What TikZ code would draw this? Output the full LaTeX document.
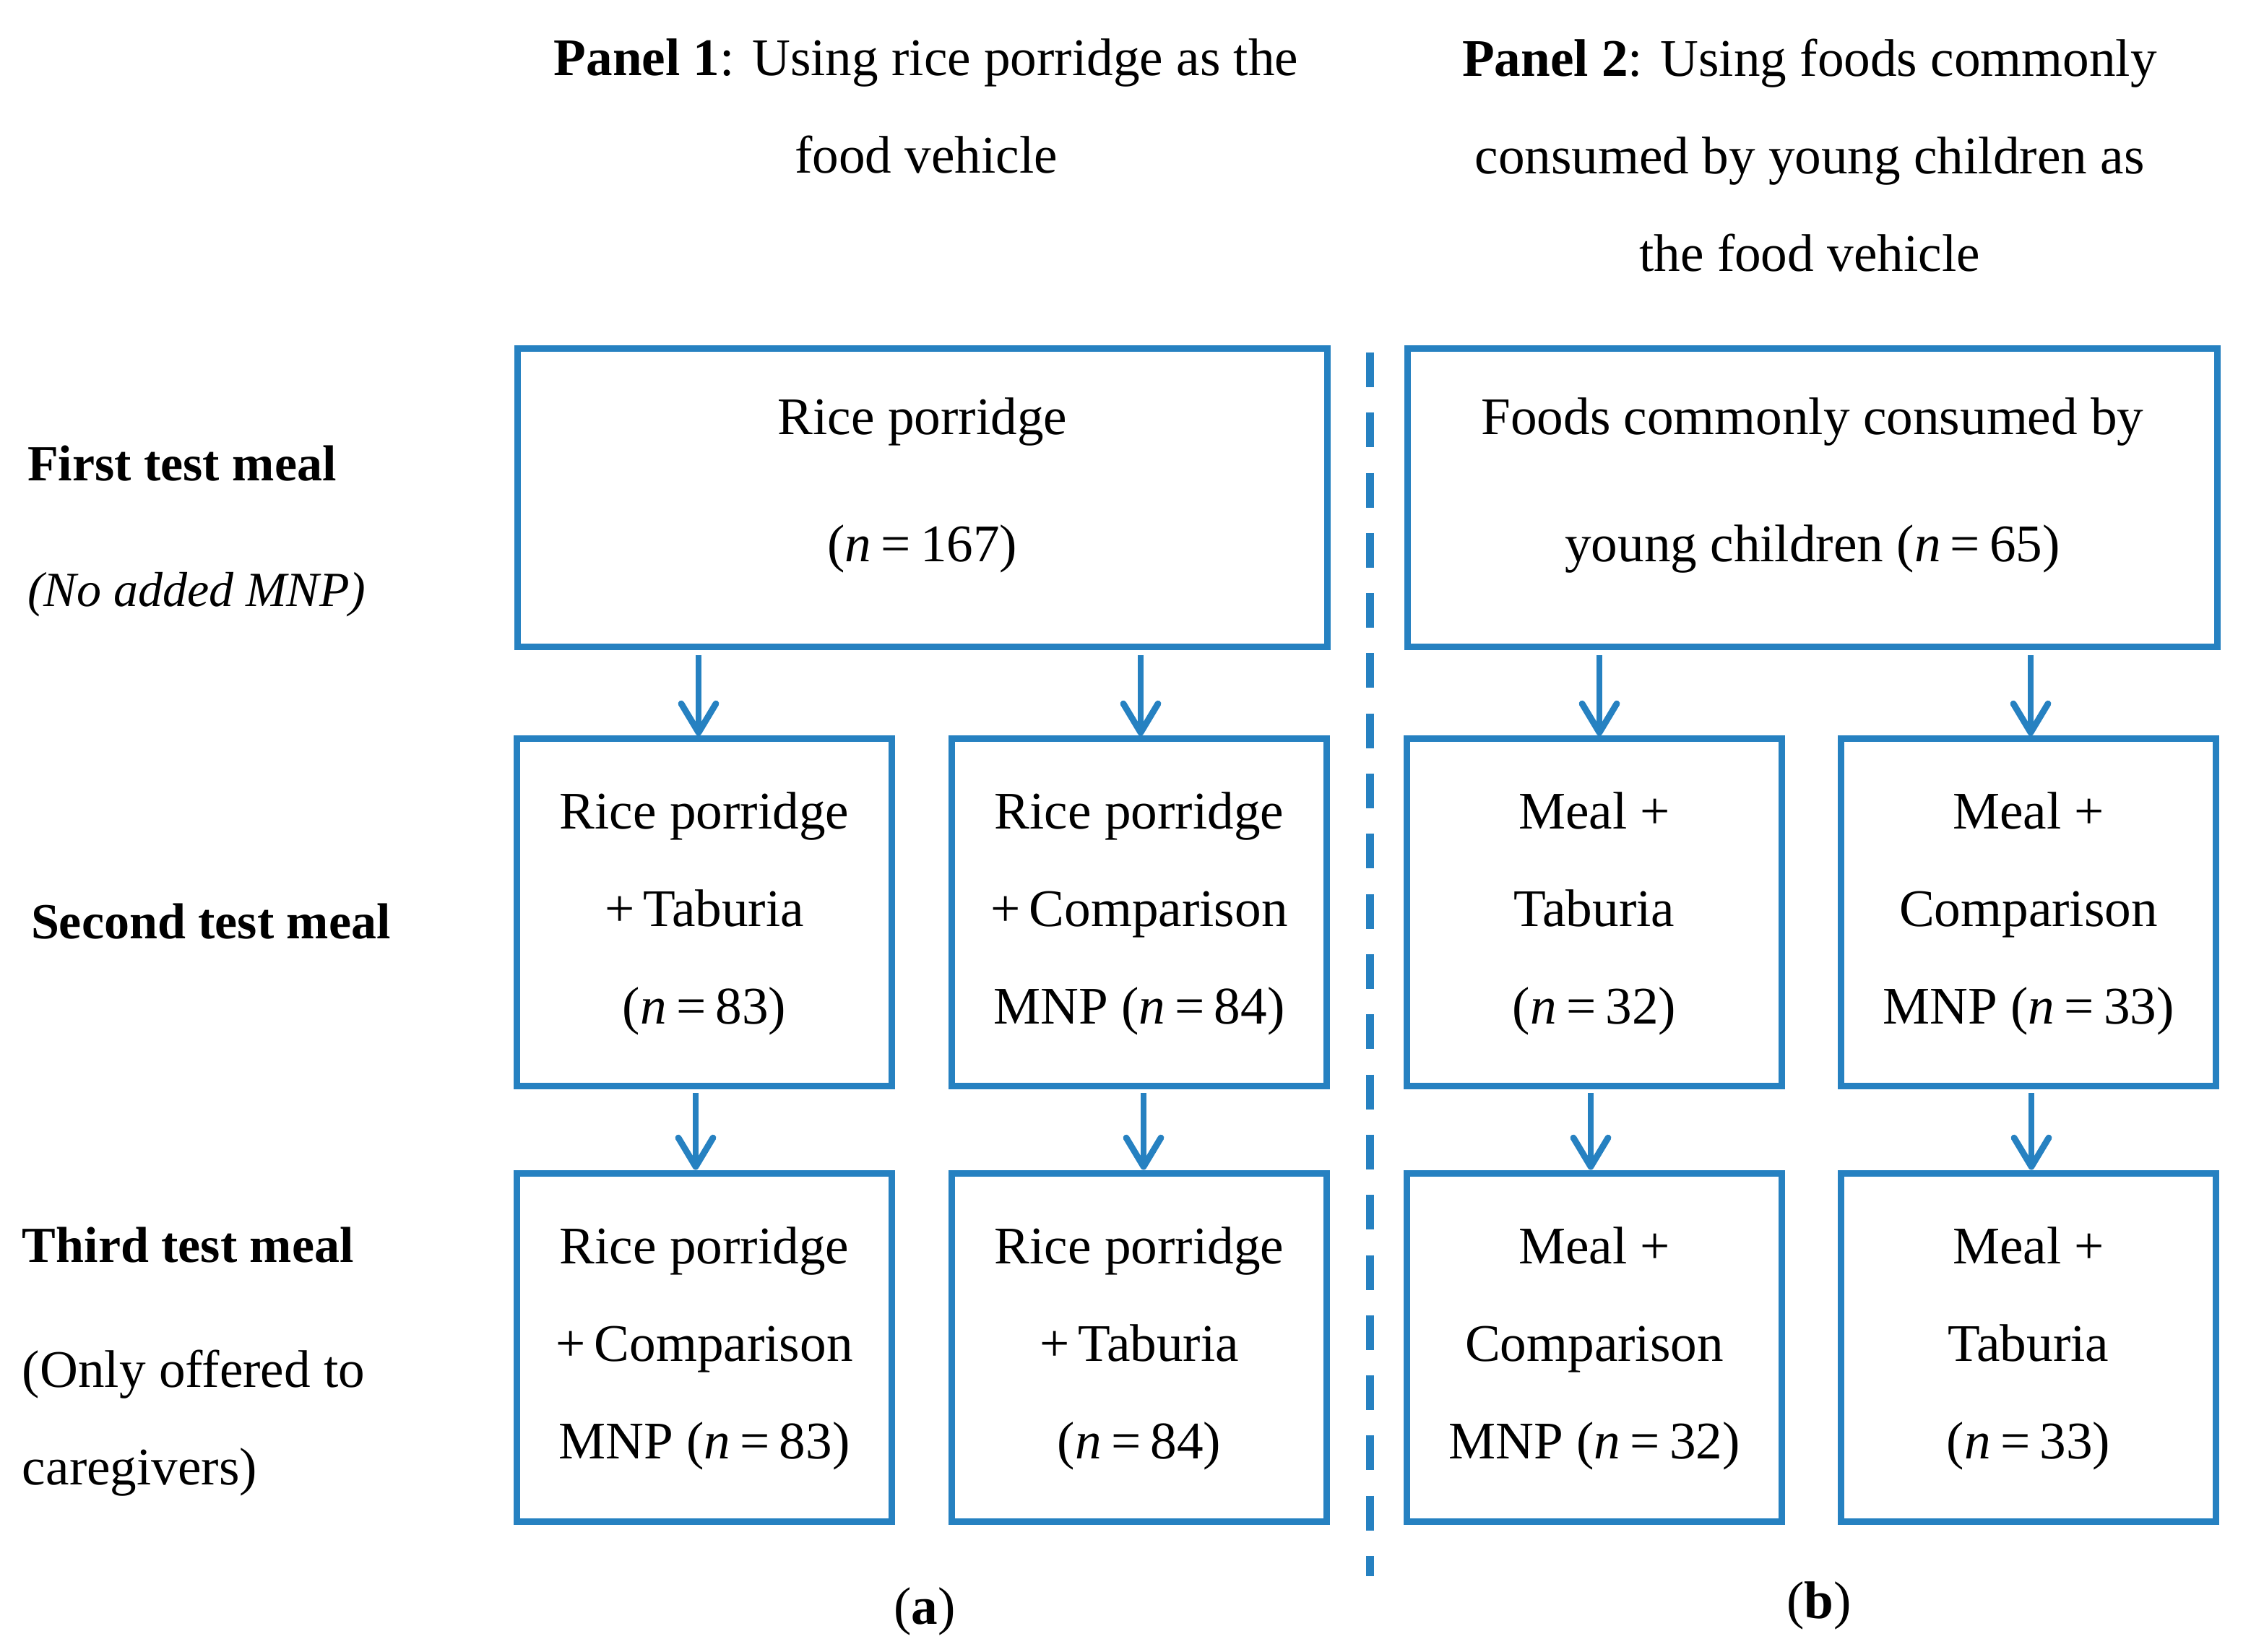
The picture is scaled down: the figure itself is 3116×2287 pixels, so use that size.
\documentclass[tikz,border=0pt]{standalone}
\usepackage{fontspec}
\setmainfont{Liberation Serif}
\usetikzlibrary{arrows.meta,calc}
\definecolor{fblue}{RGB}{38,129,193}
\newcommand{\nn}[1]{(\textit{n}\hspace{0.18em}=\hspace{0.18em}#1)}
\newcommand{\sr}{\rule[-5.5pt]{0pt}{20.5pt}}
\newcommand{\sa}{\rule[-13pt]{0pt}{26.5pt}}
\newcommand{\sh}{\rule[-13pt]{0pt}{26pt}}
\newcommand{\fsz}{\fontsize{18.3}{33.75}\selectfont}
\begin{document}
\begin{tikzpicture}[x=0.25pt,y=-0.25pt,
  every node/.style={inner sep=0pt,outer sep=0pt},
  boxbase/.style={draw=fblue,line width=2.25pt,rectangle,align=center},
  bigbox/.style={boxbase,minimum width=280.25pt,minimum height=103.25pt,font=\fontsize{18.3}{44}\selectfont},
  smallbox/.style={boxbase,minimum width=129.75pt,font=\fsz},
  rowtwo/.style={smallbox,minimum height=120pt},
  rowthree/.style={smallbox,minimum height=120.5pt},
  hdr/.style={align=center,font=\fsz},
  lbl/.style={font=\fsz},
  boldlbl/.style={font=\fontsize{17.5}{33.75}\selectfont\bfseries,anchor=base west},
  itlbl/.style={font=\fontsize{17}{33.75}\selectfont\itshape,anchor=base west},
  arr/.style={draw=fblue,line width=2.2pt,-{Straight Barb[length=10pt,width=12pt,round]}},
  sep/.style={draw=fblue,line width=2.75pt,dash pattern=on 12pt off 8.825pt}]
\useasboundingbox (0,0) rectangle (3116,2287);

% headers
\node[hdr] (h1) at (1282,172.5) {\sh\textbf{Panel 1}: Using rice porridge as the\\\sh food vehicle};
\node[hdr] (h2) at (2505,241) {\sh\textbf{Panel 2}: Using foods commonly\\\sh consumed by young children as\\\sh the food vehicle};

% left labels
\node[boldlbl] (l1) at (38,666) {First test meal};
\node[itlbl] (l1b) at (38,840) {(No added MNP)};
\node[boldlbl] (l2) at (43,1299) {Second test meal};
\node[boldlbl] (l3) at (31,1747) {Third test meal};
\node[lbl,align=left,anchor=west] (l3b) at (31,1987.5) {\sh(Only offered to\\\sh caregivers)};

% first row
\node[bigbox] (a) at (1277,689) {\sa Rice porridge\\\sa\nn{167}};
\node[bigbox] (b) at (2509,689) {\sa Foods commonly consumed by\\\sa young children \nn{65}};

% second row
\node[rowtwo] (a1) at (975,1263) {\sr Rice porridge\\\sr +\,Taburia\\\sr\nn{83}};
\node[rowtwo] (a2) at (1577,1263) {\sr Rice porridge\\\sr +\,Comparison\\\sr MNP \nn{84}};
\node[rowtwo] (b1) at (2207,1263) {\sr Meal +\\\sr Taburia\\\sr\nn{32}};
\node[rowtwo] (b2) at (2808,1263) {\sr Meal +\\\sr Comparison\\\sr MNP \nn{33}};

% third row
\node[rowthree] (a3) at (975,1865) {\sr Rice porridge\\\sr +\,Comparison\\\sr MNP \nn{83}};
\node[rowthree] (a4) at (1577,1865) {\sr Rice porridge\\\sr +\,Taburia\\\sr\nn{84}};
\node[rowthree] (b3) at (2207,1865) {\sr Meal +\\\sr Comparison\\\sr MNP \nn{32}};
\node[rowthree] (b4) at (2808,1865) {\sr Meal +\\\sr Taburia\\\sr\nn{33}};

% arrows row 1 -> row 2
\draw[arr] ($(a1.north |- a.south)+(-8,12)$) -- ($(a1.north)+(-8,-4.5)$);
\draw[arr] ($(a2.north |- a.south)+(2,12)$) -- ($(a2.north)+(2,-4.5)$);
\draw[arr] ($(b1.north |- b.south)+(7,12)$) -- ($(b1.north)+(7,-4.5)$);
\draw[arr] ($(b2.north |- b.south)+(3,12)$) -- ($(b2.north)+(3,-4.5)$);

% arrows row 2 -> row 3
\draw[arr] ($(a1.south)+(-12,10)$) -- ($(a3.north)+(-12,-4.5)$);
\draw[arr] ($(a2.south)+(6,10)$) -- ($(a4.north)+(6,-4.5)$);
\draw[arr] ($(b1.south)+(-5,10)$) -- ($(b3.north)+(-5,-4.5)$);
\draw[arr] ($(b2.south)+(4,10)$) -- ($(b4.north)+(4,-4.5)$);

% separator
\coordinate (s1) at (1896,488);
\coordinate (s2) at (1896,2182);
\draw[sep] (s1) -- (s2);

% captions
\node[lbl,anchor=base] (ca) at (1280,2248) {(\textbf{a})};
\node[lbl,anchor=base] (cb) at (2518,2240) {(\textbf{b})};
\end{tikzpicture}
\end{document}
